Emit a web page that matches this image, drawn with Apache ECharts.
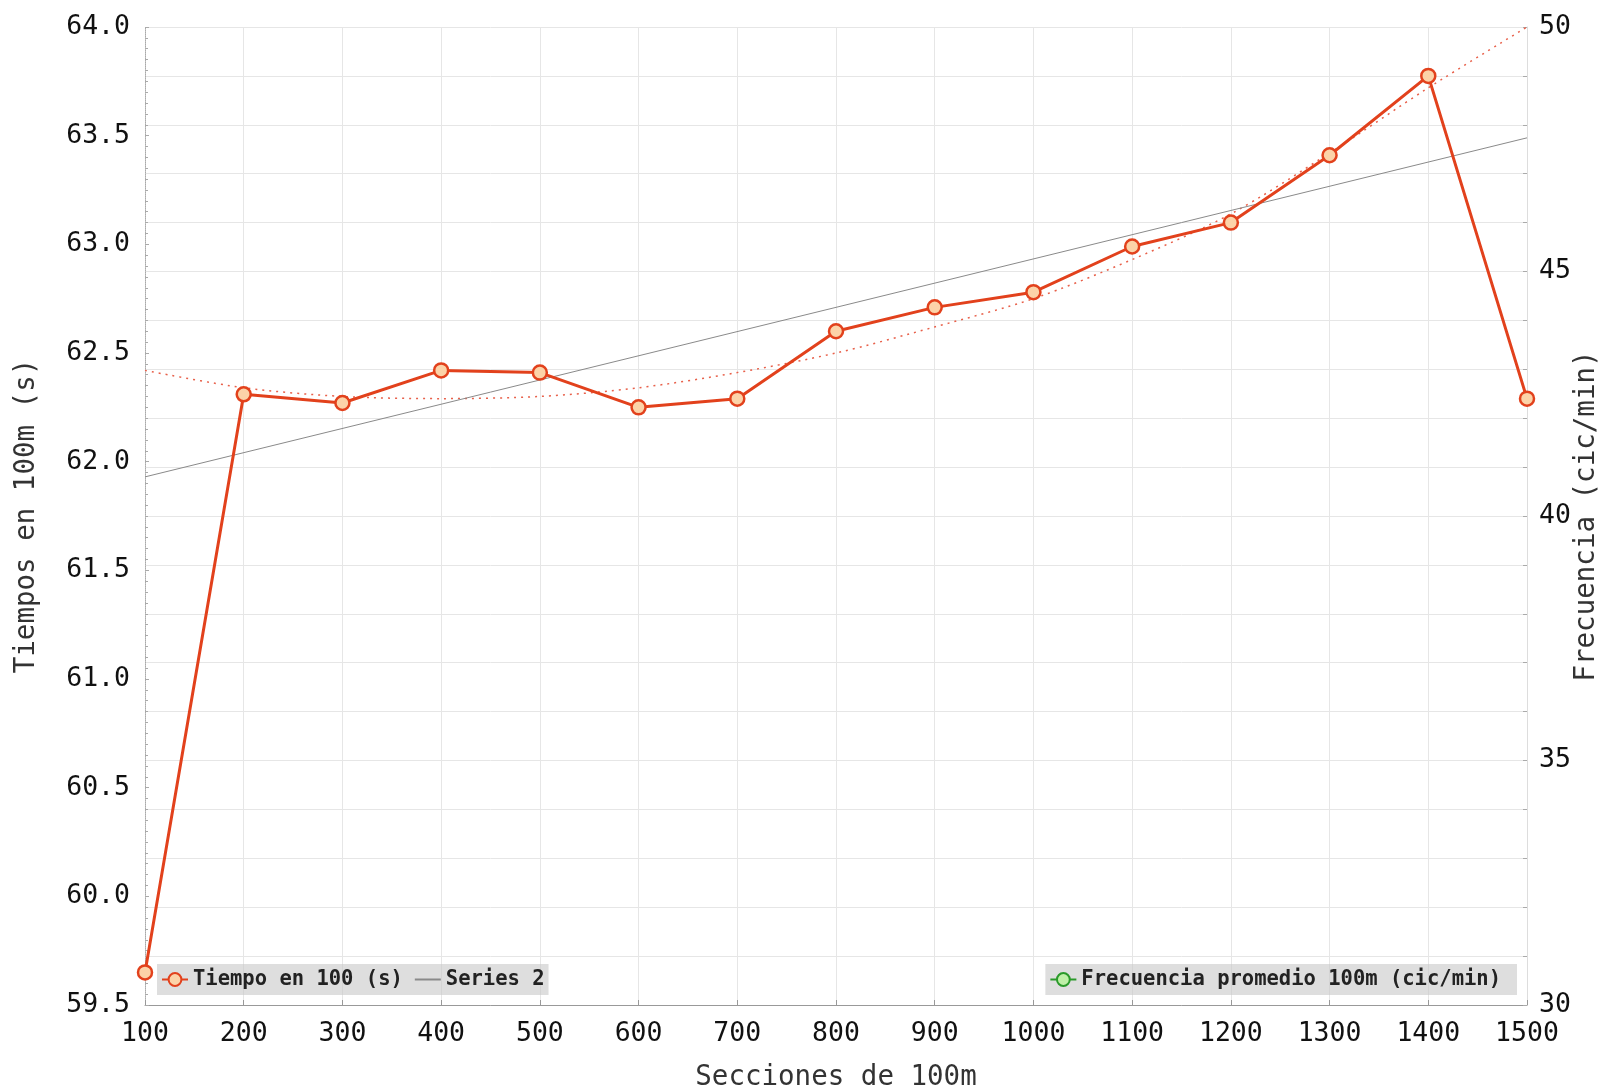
<!DOCTYPE html>
<html>
<head>
<meta charset="utf-8">
<script src="https://cdn.jsdelivr.net/npm/echarts@6/dist/echarts.min.js"></script>
<style>
html,body{margin:0;padding:0;background:#fff;}
#chart{width:1598px;height:1088px;}
</style>
</head>
<body>
<div id="chart"></div>
<script>
const secciones = [100, 200, 300, 400, 500, 600, 700, 800, 900, 1000, 1100, 1200, 1300, 1400, 1500];
const tiempos = [59.65, 62.31, 62.27, 62.42, 62.41, 62.25, 62.29, 62.60, 62.71, 62.78, 62.99, 63.10, 63.41, 63.775, 62.29];
const series2X = [100, 1500];
const series2Y = [61.93, 63.49];
const tendenciaPoli = [62.42, 62.34, 62.30, 62.29, 62.30, 62.34, 62.41, 62.50, 62.62, 62.75, 62.93, 63.14, 63.42, 63.72, 64.0];
const frecuencia = [];

const FONT = '"DejaVu Sans Mono", monospace';
const chart = echarts.init(document.getElementById('chart'));
const pairs = (xs, ys) => xs.map((x, i) => [x, ys[i]]).filter(p => p[1] !== undefined);

chart.setOption({
  backgroundColor: '#ffffff',
  animation: false,
  grid: { left: 145, right: 71, top: 27, bottom: 83, containLabel: false, outerBoundsMode: 'none' },
  legend: [
    {
      data: [
        { name: 'Tiempo en 100 (s)' },
        { name: 'Series 2', itemStyle: { opacity: 0 } }
      ],
      left: 157, top: 964,
      backgroundColor: 'rgba(200,200,200,0.6)',
      padding: [5, 4, 5, 4],
      itemGap: 11, itemWidth: 26, itemHeight: 16,
      textStyle: { fontFamily: FONT, fontSize: 20.5, fontWeight: 'bold', color: '#222' }
    },
    {
      data: ['Frecuencia promedio 100m (cic/min)'],
      right: 81, top: 964,
      backgroundColor: 'rgba(200,200,200,0.6)',
      padding: [5, 16, 5, 4],
      itemWidth: 26, itemHeight: 16,
      textStyle: { fontFamily: FONT, fontSize: 20.5, fontWeight: 'bold', color: '#222' }
    }
  ],
  xAxis: {
    type: 'value', min: 100, max: 1500, interval: 100,
    name: 'Secciones de 100m', nameLocation: 'middle', nameGap: 59,
    nameMoveOverlap: false,
    nameTextStyle: { fontFamily: FONT, fontSize: 27.5, color: '#333' },
    axisLine: { lineStyle: { color: '#999', width: 1 } },
    axisTick: { inside: true, length: 5, lineStyle: { color: '#999' } },
    axisLabel: { fontFamily: FONT, fontSize: 26.5, color: '#111', margin: 16,
      formatter: v => String(v) },
    splitLine: { show: true, lineStyle: { color: '#e6e6e6', width: 1 } }
  },
  yAxis: [
    {
      type: 'value', min: 59.5, max: 64, interval: 0.5,
      name: 'Tiempos en 100m (s)', nameLocation: 'middle', nameGap: 104,
      nameTextStyle: { fontFamily: FONT, fontSize: 27.5, color: '#333' },
      axisLine: { show: true, lineStyle: { color: '#aaa', type: 'dotted' } },
      axisTick: { show: true, inside: true, length: 4, lineStyle: { color: '#aaa' } },
      minorTick: { show: true, splitNumber: 10, length: 3, lineStyle: { color: '#aaa' } },
      axisLabel: { fontFamily: FONT, fontSize: 26.5, color: '#111', margin: 15,
        formatter: v => v.toFixed(1) },
      splitLine: { show: false }
    },
    {
      type: 'value', min: 30, max: 50, interval: 1,
      name: 'Frecuencia (cic/min)', nameLocation: 'middle', nameGap: 46,
      nameRotate: 90, nameMoveOverlap: false,
      nameTextStyle: { fontFamily: FONT, fontSize: 27.5, color: '#333' },
      axisLine: { show: true, lineStyle: { color: '#ddd' } },
      axisTick: { show: true, inside: true, length: 4, lineStyle: { color: '#aaa' } },
      axisLabel: { fontFamily: FONT, fontSize: 26.5, color: '#111', margin: 12,
        formatter: v => (v % 5 === 0 ? String(v) : '') },
      splitLine: { show: true, lineStyle: { color: '#e6e6e6', width: 1 } }
    }
  ],
  series: [
    {
      name: 'Tendencia', type: 'line', yAxisIndex: 0,
      data: pairs(secciones, tendenciaPoli), smooth: 0.3,
      symbol: 'none', silent: true,
      lineStyle: { color: '#e8604a', width: 1.5, type: [2, 5] },
      z: 1
    },
    {
      name: 'Series 2', type: 'line', yAxisIndex: 0,
      data: pairs(series2X, series2Y),
      symbol: 'none',
      itemStyle: { color: '#8a8a8a' },
      lineStyle: { color: '#8a8a8a', width: 1 },
      z: 2
    },
    {
      name: 'Tiempo en 100 (s)', type: 'line', yAxisIndex: 0,
      data: pairs(secciones, tiempos),
      symbol: 'circle', symbolSize: 14, showSymbol: true,
      lineStyle: { color: '#e2411c', width: 3 },
      itemStyle: { color: '#fcd3a8', borderColor: '#e2411c', borderWidth: 2.5 },
      z: 3
    },
    {
      name: 'Frecuencia promedio 100m (cic/min)', type: 'line', yAxisIndex: 1,
      data: frecuencia,
      symbol: 'circle', symbolSize: 14,
      lineStyle: { color: '#2a9a2a', width: 3 },
      itemStyle: { color: '#bff0a8', borderColor: '#2a9a2a', borderWidth: 2.5 }
    }
  ]
});
</script>
</body>
</html>
